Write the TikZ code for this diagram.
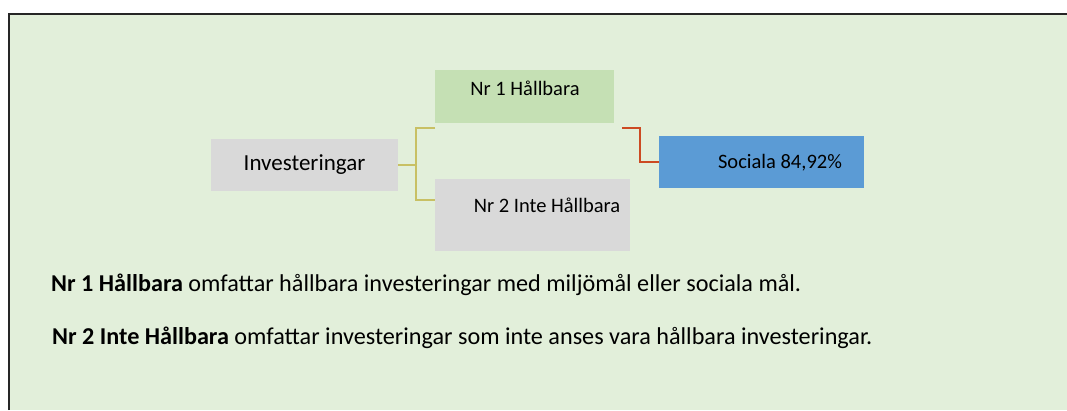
\documentclass[tikz,border=0pt]{standalone}
\usepackage{fontspec}
\setmainfont{Carlito}
\usetikzlibrary{positioning}
\definecolor{panelgreen}{HTML}{E2EFDA}
\definecolor{boxgray}{HTML}{D9D9D9}
\definecolor{boxgreen}{HTML}{C5E0B4}
\definecolor{boxblue}{HTML}{5B9BD5}
\definecolor{linkolive}{HTML}{C8C064}
\definecolor{linkred}{HTML}{CC4A22}

\begin{document}
\begin{tikzpicture}[x=1pt, y=-1pt,
    box/.style={inner sep=0pt, outer sep=0pt},
    boxtext/.style={inner sep=0pt, font=\fontsize{20.5}{24}\selectfont},
    note/.style={anchor=base west, inner sep=0pt, font=\fontsize{24.2}{28}\selectfont}]
            \useasboundingbox (0, 0) rectangle (1067, 410);
            \fill[panelgreen] (9, 14) rectangle (1067, 410);
            \draw[line width=1.8pt, black!85] (9, 410) -- (9, 14) -- (1067, 14);
            \node[box, fill=boxgray, minimum width=187, minimum height=52] (inv) at (304.5, 165) {};
            \node[font=\fontsize{23}{27}\selectfont, inner sep=0pt] (invtext) at (inv) {Investeringar};
            \node[box, fill=boxgreen, minimum width=179, minimum height=53] (nr1) at (524.5, 96.5) {};
            \node[boxtext] (nr1text) at (525, 88) {Nr 1 Hållbara};
            \node[box, fill=boxgray, minimum width=195, minimum height=72] (nr2) at (532.5, 215) {};
            \node[boxtext] (nr2text) at (547, 205) {Nr 2 Inte Hållbara};
            \node[box, fill=boxblue, minimum width=205, minimum height=52] (soc) at (761.5, 162) {};
            \node[boxtext] (soctext) at (780, 163) {Sociala 84,92\%};
            \coordinate (up) at (435, 128);
            \coordinate (down) at (435, 200);
            \coordinate (from) at (622, 128);
            \draw[linkolive, line width=1.4pt] (inv.east) -- (416, 165) (up) -- (416, 128) -- (416, 200) -- (down);
            \draw[linkred, line width=1.4pt] (from) -- (640, 128) |- (soc.west);
            % notes below the chart
            \node[note] (note1) at (51, 291) {\textbf{Nr 1 Hållbara} omfattar hållbara investeringar med miljömål eller sociala mål.};
            \node[note] (note2) at (52, 344) {\textbf{Nr 2 Inte Hållbara} omfattar investeringar som inte anses vara hållbara investeringar.};
\end{tikzpicture}
\end{document}
